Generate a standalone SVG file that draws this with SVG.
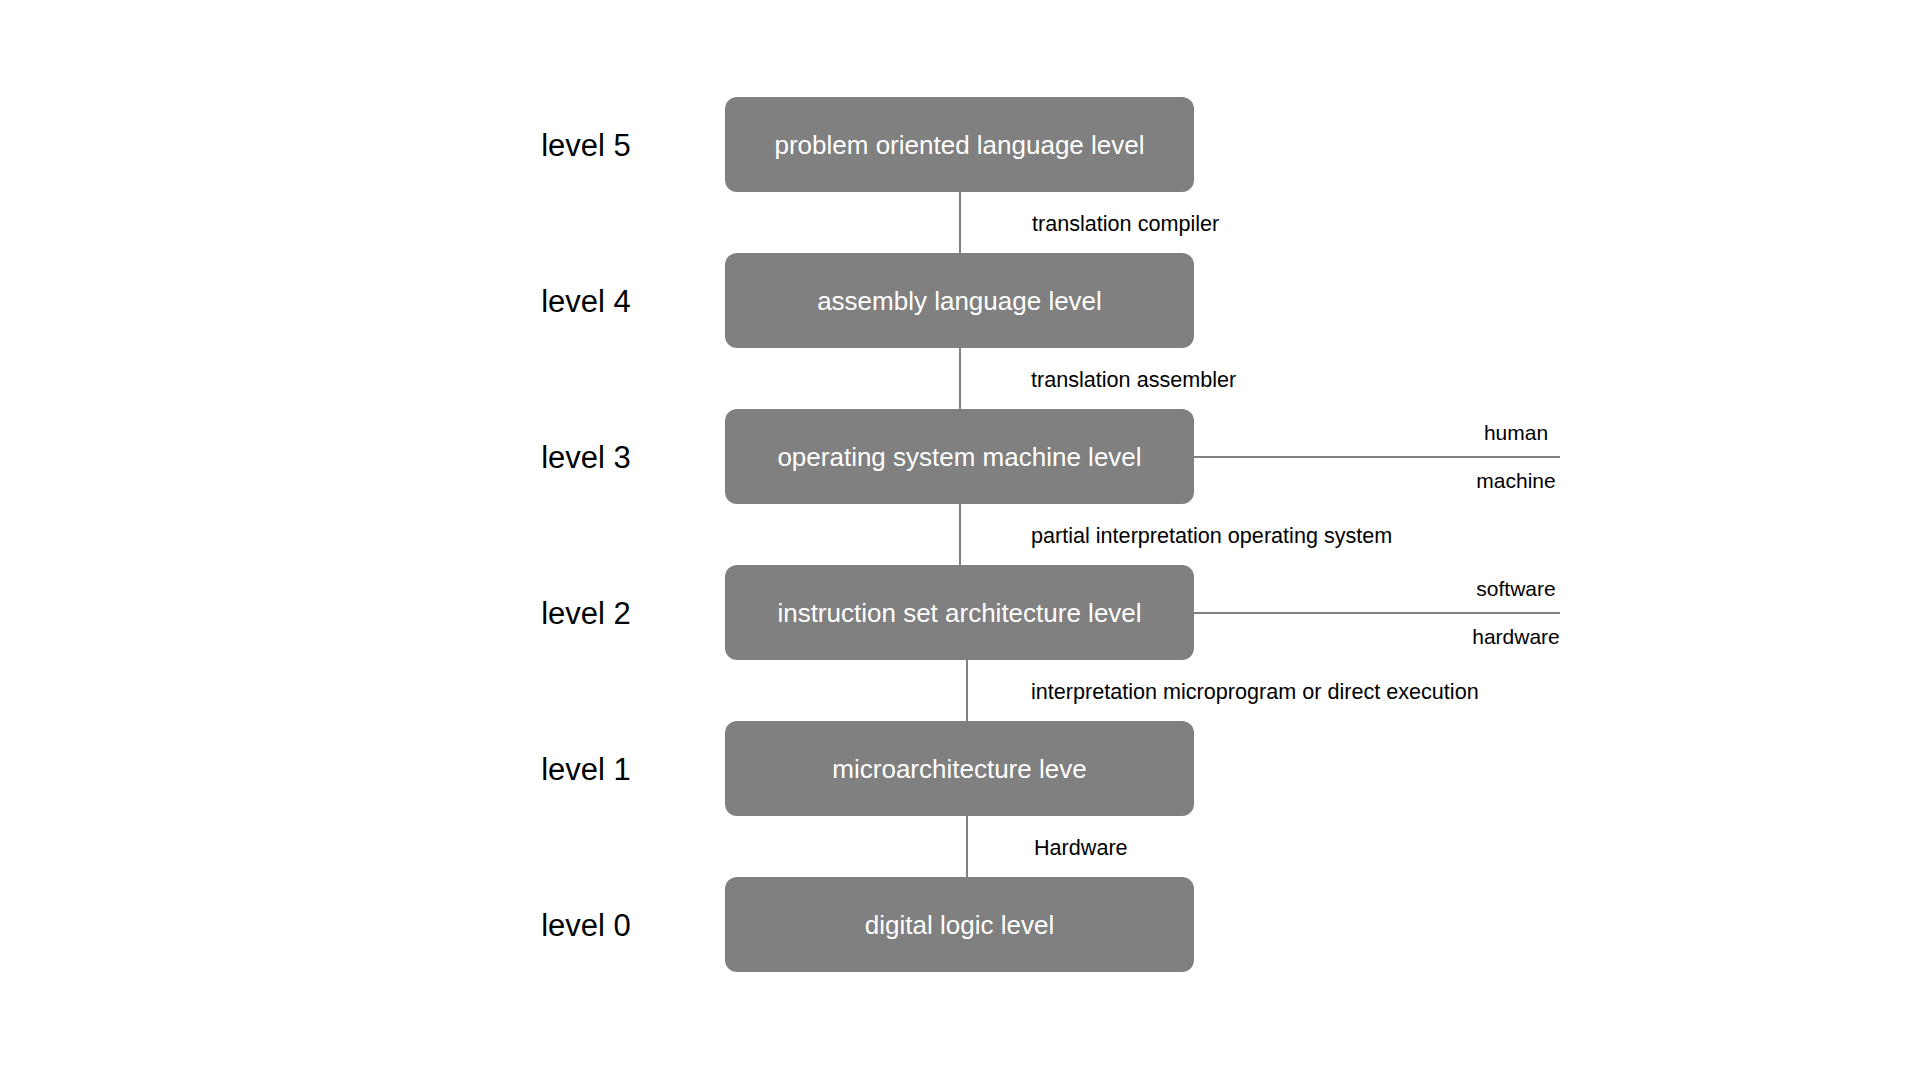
<svg xmlns="http://www.w3.org/2000/svg" width="1920" height="1080" viewBox="0 0 1920 1080">
<style>
.box{fill:#808080}
.bt{font-family:"Liberation Sans",Arial,sans-serif;font-size:26px;fill:#ffffff;text-anchor:middle;dominant-baseline:central}
.lv{font-family:"Liberation Sans",Arial,sans-serif;font-size:31px;fill:#000000;text-anchor:middle;dominant-baseline:central}
.cl{font-family:"Liberation Sans",Arial,sans-serif;font-size:21.6px;fill:#000000;dominant-baseline:central}
.sl{font-family:"Liberation Sans",Arial,sans-serif;font-size:21px;fill:#000000;text-anchor:middle;dominant-baseline:central}
.ln{stroke:#808080;stroke-width:2;fill:none}
</style>
<rect width="1920" height="1080" fill="#ffffff"/>
<g id="connectors">
<line class="ln" x1="960" y1="192" x2="960" y2="253"/>
<line class="ln" x1="960" y1="348" x2="960" y2="409"/>
<line class="ln" x1="960" y1="504" x2="960" y2="565"/>
<line class="ln" x1="967" y1="660" x2="967" y2="721"/>
<line class="ln" x1="967" y1="816" x2="967" y2="877"/>
<line class="ln" x1="1194" y1="457" x2="1560" y2="457"/>
<line class="ln" x1="1194" y1="613" x2="1560" y2="613"/>
<text class="cl" x="1032" y="223">translation compiler</text>
<text class="cl" x="1031" y="379">translation assembler</text>
<text class="cl" x="1031" y="535">partial interpretation operating system</text>
<text class="cl" x="1031" y="691">interpretation microprogram or direct execution</text>
<text class="cl" x="1034" y="847">Hardware</text>
<text class="sl" x="1516" y="432">human</text>
<text class="sl" x="1516" y="480">machine</text>
<text class="sl" x="1516" y="588">software</text>
<text class="sl" x="1516" y="636">hardware</text>
</g>
<g id="level5"><rect class="box" x="725" y="97" width="469" height="95" rx="12"/><text class="bt" x="959.5" y="145">problem oriented language level</text><text class="lv" x="586" y="145">level 5</text></g>
<g id="level4"><rect class="box" x="725" y="253" width="469" height="95" rx="12"/><text class="bt" x="959.5" y="301">assembly language level</text><text class="lv" x="586" y="301">level 4</text></g>
<g id="level3"><rect class="box" x="725" y="409" width="469" height="95" rx="12"/><text class="bt" x="959.5" y="457">operating system machine level</text><text class="lv" x="586" y="457">level 3</text></g>
<g id="level2"><rect class="box" x="725" y="565" width="469" height="95" rx="12"/><text class="bt" x="959.5" y="613">instruction set architecture level</text><text class="lv" x="586" y="613">level 2</text></g>
<g id="level1"><rect class="box" x="725" y="721" width="469" height="95" rx="12"/><text class="bt" x="959.5" y="769">microarchitecture leve</text><text class="lv" x="586" y="769">level 1</text></g>
<g id="level0"><rect class="box" x="725" y="877" width="469" height="95" rx="12"/><text class="bt" x="959.5" y="925">digital logic level</text><text class="lv" x="586" y="925">level 0</text></g>
</svg>
